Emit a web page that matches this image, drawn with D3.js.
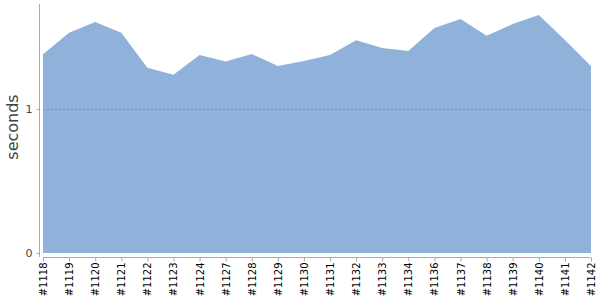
<!DOCTYPE html>
<html><head><meta charset="utf-8">
<script src="https://cdn.jsdelivr.net/npm/d3@7"></script>
<style>body{margin:0;background:#fff}svg{display:block}</style>
</head><body>
<svg id="c" width="600" height="300"></svg>
<script>
const builds = ["#1118","#1119","#1120","#1121","#1122","#1123","#1124","#1127","#1128","#1129","#1130","#1131","#1132","#1133","#1134","#1136","#1137","#1138","#1139","#1140","#1141","#1142"];
const seconds = [1.38,1.53,1.604,1.53,1.287,1.238,1.375,1.329,1.382,1.299,1.333,1.375,1.477,1.424,1.403,1.5625,1.625,1.509,1.59,1.653,1.479,1.299];
const yTicks = [0,1];

const svg = d3.select("#c");
const x = d3.scalePoint().domain(builds).range([43,591]);
const y = d3.scaleLinear().domain([0,1.729]).range([253,4]);

const area = d3.area().x((d,i)=>x(builds[i])).y0(y(0)).y1(d=>y(d));
svg.append("path").datum(seconds).attr("d",area).attr("fill","#8fb1da");

// gridline
yTicks.filter(t=>t>0).forEach(t=>{
  svg.append("line").attr("x1",43).attr("x2",591).attr("y1",Math.round(y(t))+0.5).attr("y2",Math.round(y(t))+0.5)
    .attr("stroke","#6f8fba").attr("stroke-width",1).attr("stroke-dasharray","2,2");
});

// y axis
const yAxis = svg.append("g").attr("transform","translate(39.5,0)")
  .call(d3.axisLeft(y).tickValues(yTicks).tickSize(3).tickPadding(4).tickFormat(d3.format("d")));
yAxis.select(".domain").attr("d","M0,4V257").attr("stroke","#aaa");
yAxis.selectAll(".tick line").attr("stroke","#aaa");
yAxis.selectAll(".tick text").attr("font-family","DejaVu Sans").attr("font-size",11).attr("fill","#444");

// x axis
const xAxis = svg.append("g").attr("transform","translate(0,257.5)")
  .call(d3.axisBottom(x).tickSize(4).tickPadding(5));
xAxis.select(".domain").attr("d","M43,0H591").attr("stroke","#aaa");
xAxis.selectAll(".tick line").attr("stroke","#aaa");
xAxis.selectAll(".tick text").attr("font-family","DejaVu Sans").attr("font-size",10).attr("fill","#000")
  .attr("transform","rotate(-90)").attr("text-anchor","end").attr("x",-5).attr("y",0).attr("dy","0.35em");

svg.append("text").attr("transform","translate(18,127) rotate(-90)").attr("text-anchor","middle")
  .attr("font-family","DejaVu Sans").attr("font-size",16).attr("fill","#444").text("seconds");
</script>
</body></html>
